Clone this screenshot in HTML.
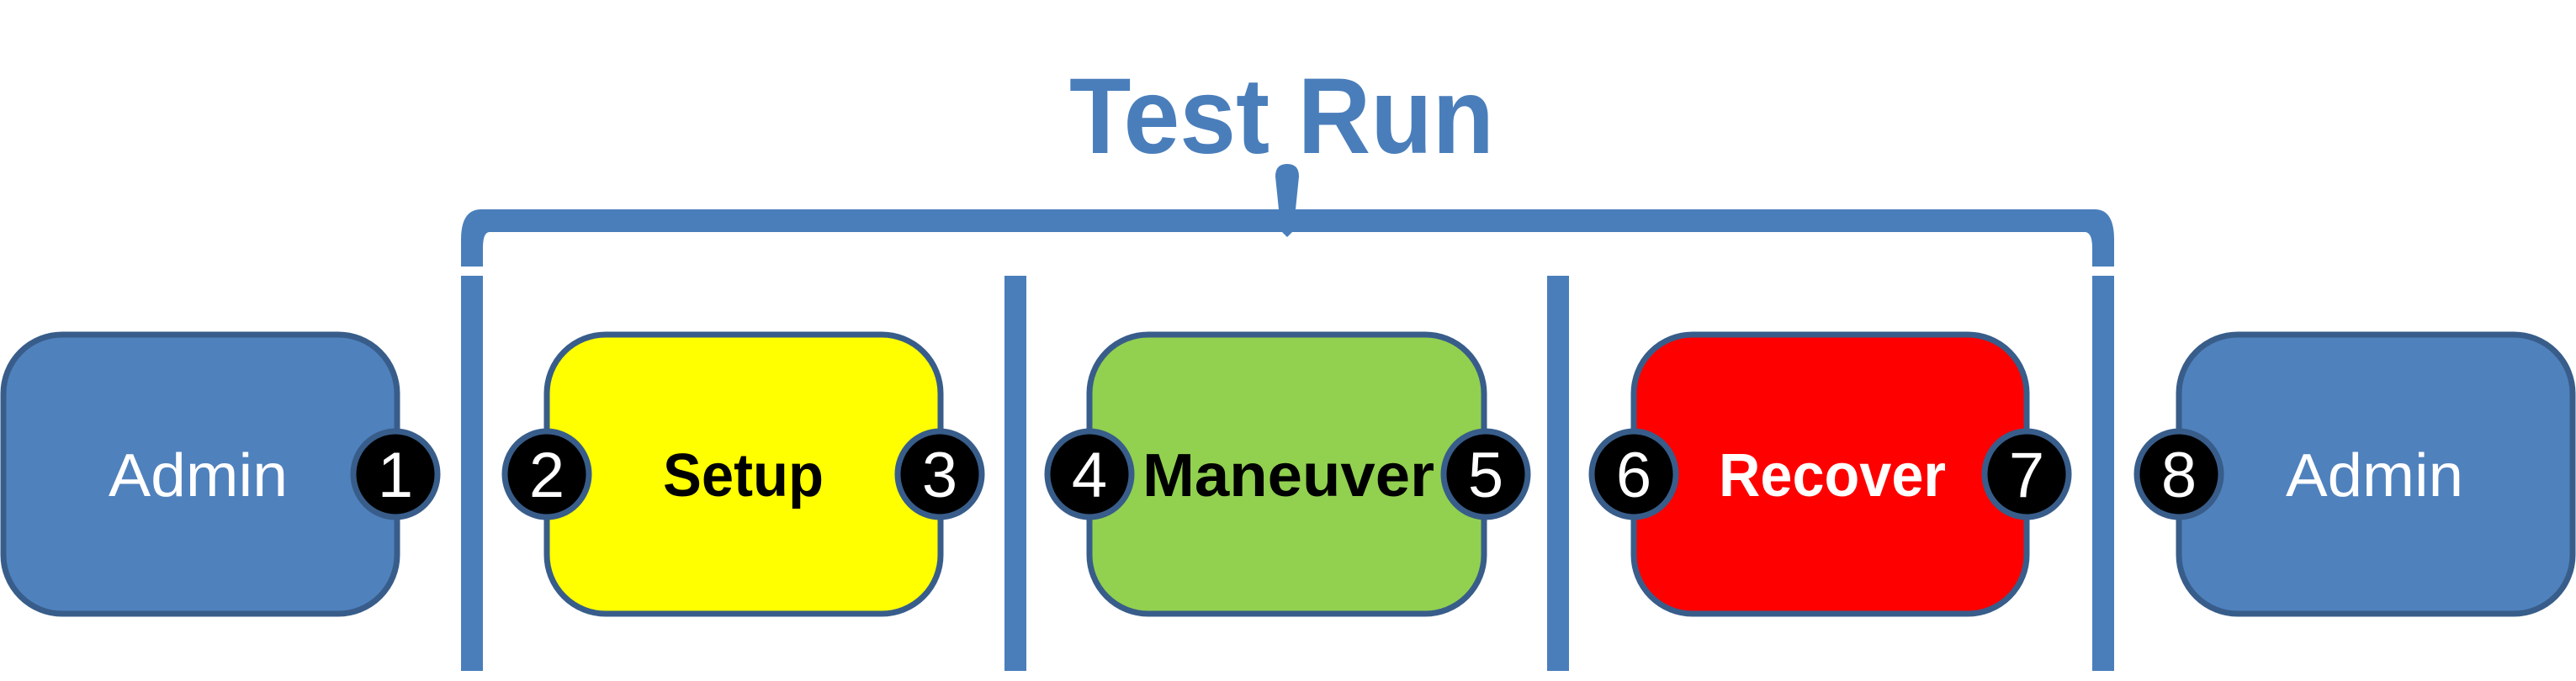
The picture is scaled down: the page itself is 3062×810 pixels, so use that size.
<!DOCTYPE html>
<html><head><meta charset="utf-8"><style>
html,body{margin:0;padding:0;background:#fff;}
svg{display:block;}
</style></head><body>
<svg width="3062" height="810" viewBox="0 0 3062 810" xmlns="http://www.w3.org/2000/svg">
<g fill="#4A7EBB">
  <rect x="548" y="328" width="26" height="470"/>
  <rect x="1194" y="328" width="26" height="470"/>
  <rect x="1839" y="328" width="26" height="470"/>
  <rect x="2487" y="328" width="26" height="470"/>
  <path d="M548,317 L548,285 Q548,249 572,249 L1520,249 L1516,210 Q1516,195 1530,195 Q1544,195 1544,210 L1540,249 L2490,249 Q2513,249 2513,285 L2513,317 L2487,317 L2487,295 Q2487,276 2478,276 L1536,276 L1530,282 L1524,276 L582,276 Q574,276 574,295 L574,317 Z"/>
</g>
<text x="1271" y="182" font-family="Liberation Sans, sans-serif" font-weight="bold" font-size="128" fill="#4A7EBB" textLength="505" lengthAdjust="spacingAndGlyphs">Test Run</text>

<g stroke="#385D8A" stroke-width="7">
  <rect x="4" y="398" width="468" height="332" rx="70" fill="#4F81BD"/>
  <rect x="650" y="398" width="468" height="332" rx="70" fill="#FFFF00"/>
  <rect x="1295" y="398" width="469" height="332" rx="70" fill="#92D050"/>
  <rect x="1942" y="398" width="467" height="332" rx="70" fill="#FF0000"/>
  <rect x="2590" y="398" width="468" height="332" rx="70" fill="#4F81BD"/>
</g>
<g font-family="Liberation Sans, sans-serif" font-size="72">
  <text x="129" y="590" fill="#fff" textLength="213" lengthAdjust="spacingAndGlyphs">Admin</text>
  <text x="788" y="590" fill="#000" font-weight="bold" textLength="191" lengthAdjust="spacingAndGlyphs">Setup</text>
  <text x="1358" y="590" fill="#000" font-weight="bold" textLength="347" lengthAdjust="spacingAndGlyphs">Maneuver</text>
  <text x="2043" y="590" fill="#fff" font-weight="bold" textLength="270" lengthAdjust="spacingAndGlyphs">Recover</text>
  <text x="2717" y="590" fill="#fff" textLength="211" lengthAdjust="spacingAndGlyphs">Admin</text>
</g>
<g stroke="#385D8A" stroke-width="7" fill="#000">
  <ellipse cx="470" cy="564" rx="50" ry="51"/>
  <ellipse cx="650" cy="564" rx="50" ry="51"/>
  <ellipse cx="1117" cy="564" rx="50" ry="51"/>
  <ellipse cx="1295" cy="564" rx="50" ry="51"/>
  <ellipse cx="1766" cy="564" rx="50" ry="51"/>
  <ellipse cx="1942" cy="564" rx="50" ry="51"/>
  <ellipse cx="2409" cy="564" rx="50" ry="51"/>
  <ellipse cx="2590" cy="564" rx="50" ry="51"/>
</g>
<g font-family="Liberation Sans, sans-serif" font-size="76" fill="#fff" text-anchor="middle">
  <text x="470" y="591">1</text>
  <text x="650" y="591">2</text>
  <text x="1117" y="591">3</text>
  <text x="1295" y="591">4</text>
  <text x="1766" y="591">5</text>
  <text x="1942" y="591">6</text>
  <text x="2409" y="591">7</text>
  <text x="2590" y="591">8</text>
</g>
</svg>
</body></html>
